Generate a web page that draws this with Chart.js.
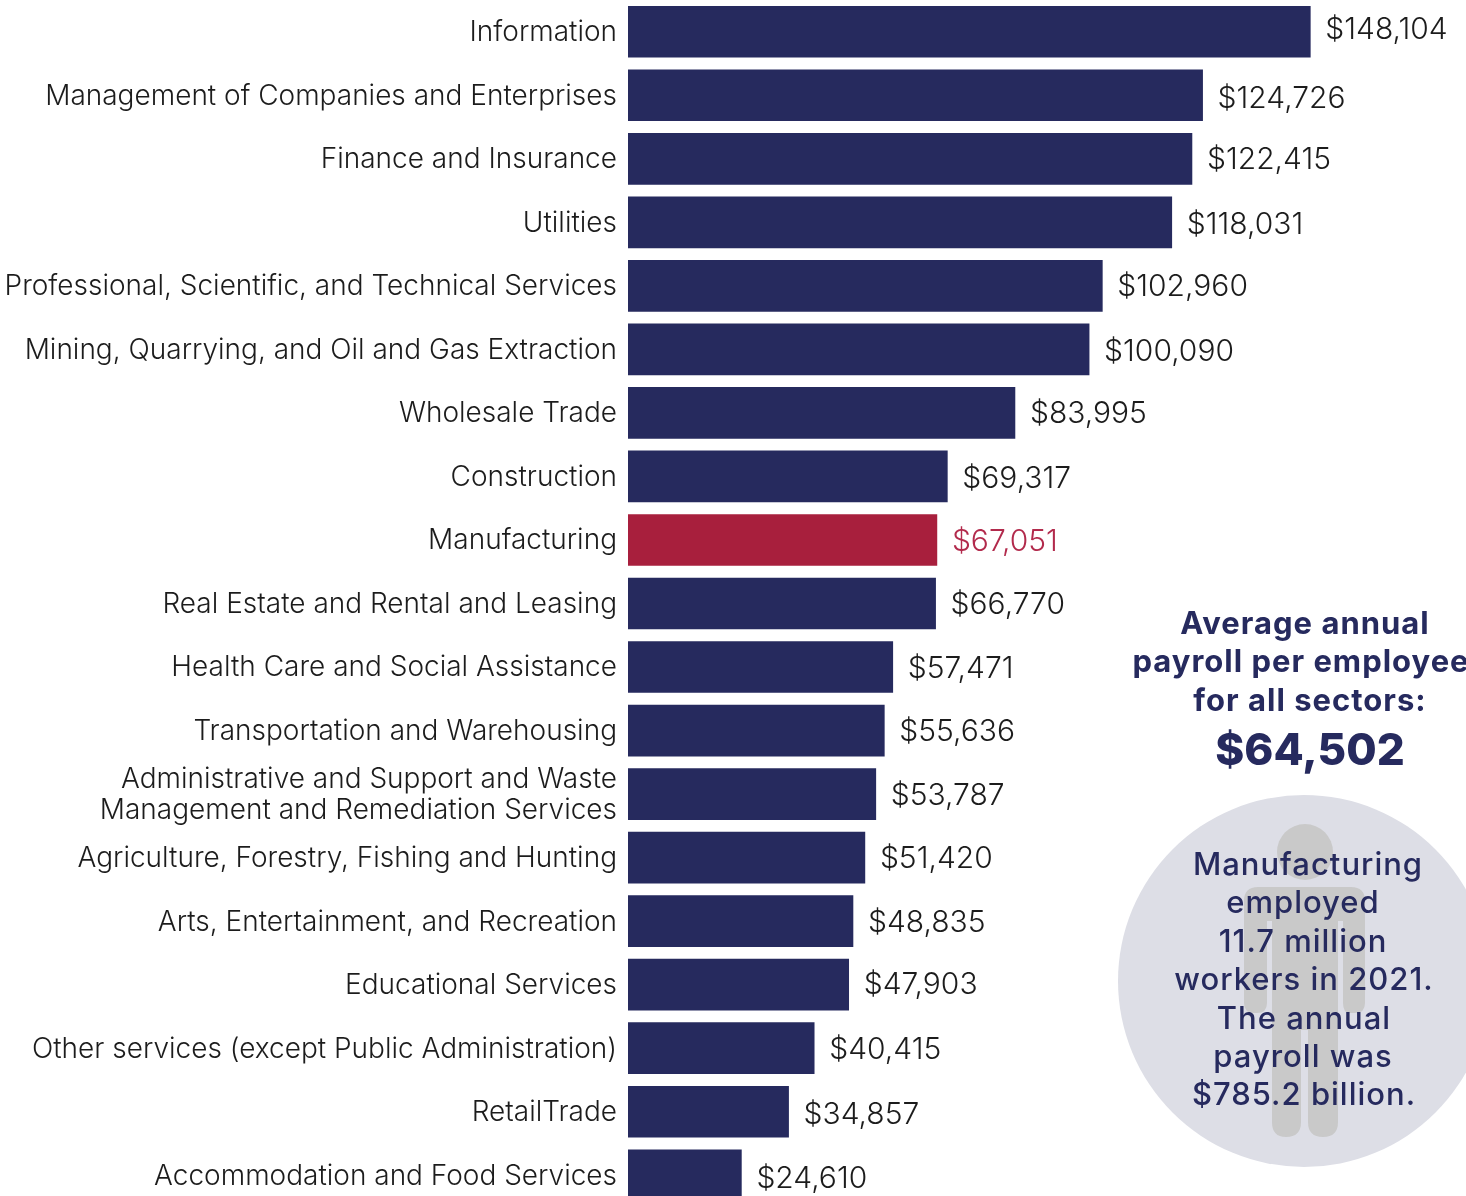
<!DOCTYPE html>
<html>
<head>
<meta charset="utf-8">
<title>Average annual payroll per employee by sector</title>
<script src="https://cdn.jsdelivr.net/npm/chart.js@4"></script>
<style>
  html, body { margin: 0; padding: 0; background: #fff; }
  #page { position: relative; width: 1466px; height: 1196px; overflow: hidden; font-family: Inter, sans-serif; color: #262a5e; }
  #chartPayroll { position: absolute; left: 0; top: 0; }
  #figure { position: absolute; left: 0; top: 0; }
  .line { position: absolute; white-space: nowrap; transform: translate(-50%, -50%); }
  .side { font-size: 31px; font-weight: 700; letter-spacing: 1px; }
  .total { font-size: 44px; font-weight: 800; }
  .circle { font-size: 31px; font-weight: 500; letter-spacing: 1px; }
</style>
</head>
<body>
<div id="page">
  <canvas id="chartPayroll"></canvas>

  <svg id="figure" width="1466" height="1196">
    <circle cx="1304" cy="981" r="186" fill="#dddee6"/>
    <circle cx="1305" cy="852" r="28" fill="#c9c9c9"/>
    <path d="M1258 887 H1351 Q1365 887 1365 901 V1003 Q1365 1013 1355 1013 H1350 Q1343 1013 1343 1003 V921 H1338 V1122 Q1338 1137 1323 1137 Q1308 1137 1308 1122 V1030 H1301 V1122 Q1301 1137 1286 1137 Q1272 1137 1272 1122 V921 H1267 V1003 Q1267 1013 1257 1013 H1254 Q1244 1013 1244 1003 V901 Q1244 887 1258 887 Z" fill="#c9c9c9"/>
  </svg>

  <div class="line side" style="left:1305px;top:622px">Average annual</div>
  <div class="line side" style="left:1301px;top:660px">payroll per employee</div>
  <div class="line side" style="left:1310px;top:699px">for all sectors:</div>
  <div class="line total" style="left:1310px;top:749px">$64,502</div>

  <div class="line circle" style="left:1308px;top:863px">Manufacturing</div>
  <div class="line circle" style="left:1303px;top:901px">employed</div>
  <div class="line circle" style="left:1303px;top:940px">11.7 million</div>
  <div class="line circle" style="left:1304px;top:978px">workers in 2021.</div>
  <div class="line circle" style="left:1304px;top:1017px">The annual</div>
  <div class="line circle" style="left:1303px;top:1055px">payroll was</div>
  <div class="line circle" style="left:1304px;top:1093px">$785.2 billion.</div>
</div>

<script>
/* données */
var sectors = [
  "Information",
  "Management of Companies and Enterprises",
  "Finance and Insurance",
  "Utilities",
  "Professional, Scientific, and Technical Services",
  "Mining, Quarrying, and Oil and Gas Extraction",
  "Wholesale Trade",
  "Construction",
  "Manufacturing",
  "Real Estate and Rental and Leasing",
  "Health Care and Social Assistance",
  "Transportation and Warehousing",
  ["Administrative and Support and Waste", "Management and Remediation Services"],
  "Agriculture, Forestry, Fishing and Hunting",
  "Arts, Entertainment, and Recreation",
  "Educational Services",
  "Other services (except Public Administration)",
  "RetailTrade",
  "Accommodation and Food Services"
];
var payroll = [148104, 124726, 122415, 118031, 102960, 100090, 83995, 69317, 67051, 66770,
               57471, 55636, 53787, 51420, 48835, 47903, 40415, 34857, 24610];
var highlighted = "Manufacturing";

var navy = "#262a5e";
var red = "#a81f3d";
var textColor = "#1c1c1c";

/* les étiquettes ne sont pas toutes bien centrées dans l'original */
var labelShift = [-3, 2, 0, 1, 0, 1, 0, 1, 1, 0, 0, 0, 0, 0, 0, -1, 0, 2, 2];

var barColors = sectors.map(function (s) { return s === highlighted ? red : navy; });

/* étiquettes de valeur au bout des barres */
var valueLabels = {
  id: "valueLabels",
  afterDatasetsDraw: function (chart) {
    var ctx = chart.ctx;
    var bars = chart.getDatasetMeta(0).data;
    ctx.save();
    ctx.font = "300 30px Inter, sans-serif";
    ctx.textAlign = "left";
    ctx.textBaseline = "middle";
    bars.forEach(function (bar, i) {
      ctx.fillStyle = sectors[i] === highlighted ? "#b22a4c" : textColor;
      ctx.fillText("$" + payroll[i].toLocaleString("en-US"), bar.x + 15, bar.y + labelShift[i] + 1.5);
    });
    ctx.restore();
  }
};

var canvas = document.getElementById("chartPayroll");
canvas.width = 1466;
canvas.height = 1207;

new Chart(canvas.getContext("2d"), {
  type: "bar",
  data: {
    labels: sectors,
    datasets: [{
      data: payroll,
      backgroundColor: barColors,
      barThickness: 51,
      borderWidth: 0
    }]
  },
  options: {
    indexAxis: "y",
    responsive: false,
    animation: false,
    layout: { padding: 0 },
    plugins: {
      legend: { display: false },
      title: { display: false },
      tooltip: { enabled: false }
    },
    scales: {
      x: {
        display: false,
        min: 0,
        max: 181900
      },
      y: {
        afterFit: function (scale) {
          scale.width = 628;
          // sinon chart.js garde une marge pour la première et la dernière étiquette
          scale.paddingTop = 0;
          scale.paddingBottom = 0;
        },
        grid: { display: false, drawTicks: false },
        border: { display: false },
        ticks: {
          autoSkip: false,
          padding: 11,
          labelOffset: 1,
          color: textColor,
          font: { family: "Inter, sans-serif", size: 28, weight: "300", lineHeight: 1.1 }
        }
      }
    }
  },
  plugins: [valueLabels]
});
</script>
</body>
</html>
